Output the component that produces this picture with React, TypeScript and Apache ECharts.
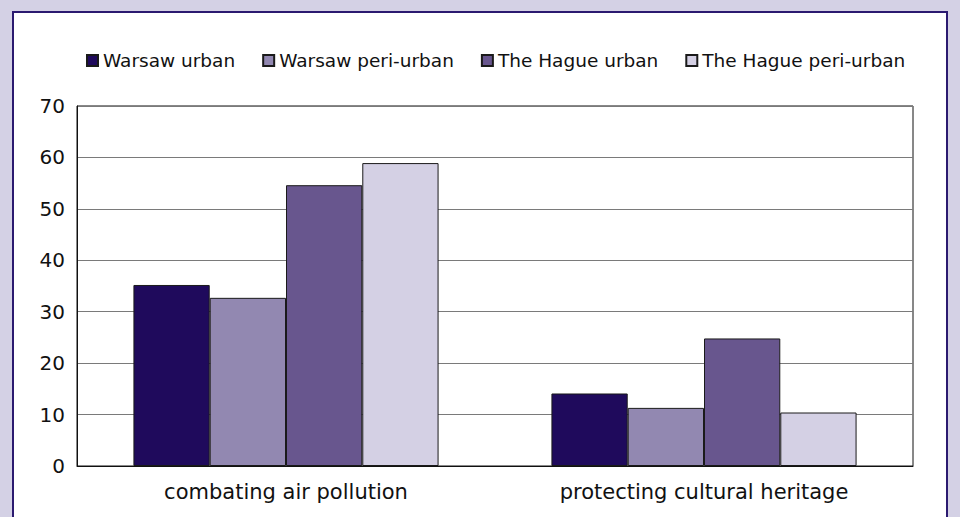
import React, { useEffect, useRef } from "react";
import * as echarts from "echarts";

const categories = ["combating air pollution", "protecting cultural heritage"];
const seriesNames = ["Warsaw urban", "Warsaw peri-urban", "The Hague urban", "The Hague peri-urban"];
const warsawUrban = [35.2, 14.1];
const warsawPeriUrban = [32.7, 11.3];
const hagueUrban = [54.6, 24.8];
const haguePeriUrban = [58.9, 10.4];
const seriesColors = ["#1f0a5c", "#9288b1", "#68568e", "#d4d0e4"];

export default function App() {
  const ref = useRef<HTMLDivElement>(null);
  useEffect(() => {
    if (!ref.current) return;
    const chart = echarts.init(ref.current, null, { renderer: "svg" });
    const values = [warsawUrban, warsawPeriUrban, hagueUrban, haguePeriUrban];
    const font = "'DejaVu Sans', Verdana, sans-serif";
    chart.setOption({
      animation: false,
      backgroundColor: "#d4d1e5",
      graphic: [
        {
          type: "rect",
          z: -10,
          shape: { x: 13, y: 12, width: 934, height: 520 },
          style: { fill: "#ffffff", stroke: "#2b1a70", lineWidth: 2 },
        },
      ],
      legend: {
        data: seriesNames,
        left: 81,
        top: 46,
        itemWidth: 11,
        itemHeight: 11,
        itemGap: 27,
        icon: "rect",
        textStyle: { fontFamily: font, fontSize: 18.5, color: "#111" },
      },
      grid: {
        left: 77,
        top: 106,
        right: 47,
        bottom: 51,
        show: true,
        borderColor: "#111",
        borderWidth: 1,
        backgroundColor: "transparent",
      },
      xAxis: {
        type: "category",
        data: categories,
        axisTick: { show: false },
        axisLine: { lineStyle: { color: "#111", width: 1 } },
        axisLabel: { fontFamily: font, fontSize: 21, color: "#111", margin: 15 },
      },
      yAxis: {
        type: "value",
        min: 0,
        max: 70,
        interval: 10,
        axisLine: { show: true, lineStyle: { color: "#111" } },
        axisTick: { show: false },
        splitLine: { lineStyle: { color: "#7a7a7a", width: 1 } },
        axisLabel: { fontFamily: font, fontSize: 20, color: "#111", margin: 12 },
      },
      series: seriesNames.map((name, i) => ({
        name,
        type: "bar",
        data: values[i],
        barGap: "0%",
        barCategoryGap: "27%",
        itemStyle: { color: seriesColors[i], borderColor: "#1a1a1a", borderWidth: 1 },
      })),
    });
    return () => chart.dispose();
  }, []);
  return (
    <div
      ref={ref}
      style={{ position: "absolute", left: 0, top: 0, width: 960, height: 517 }}
    />
  );
}
